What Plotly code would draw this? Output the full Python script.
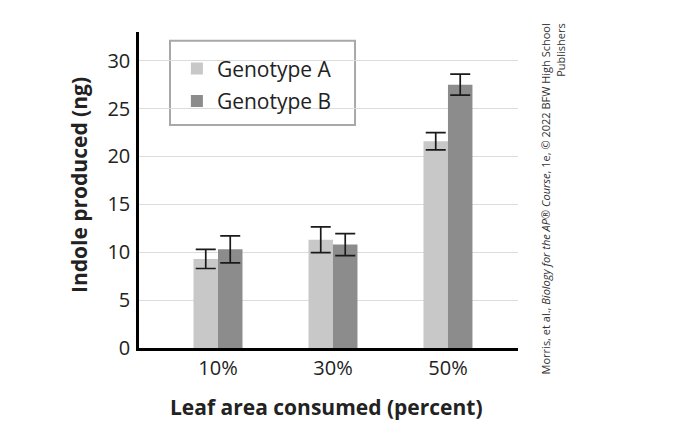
import plotly.graph_objects as go

categories = ["10%", "30%", "50%"]
genotype_a = [9.3, 11.3, 21.6]
genotype_a_err = [1.0, 1.35, 0.9]
genotype_b = [10.3, 10.8, 27.5]
genotype_b_err = [1.4, 1.15, 1.1]
y_ticks = [0, 5, 10, 15, 20, 25, 30]

FONT = "Open Sans"
TXT = "#222"

fig = go.Figure()
fig.add_trace(go.Bar(
    name="Genotype A", x=categories, y=genotype_a, legendgroup="a",
    marker=dict(color="#c8c8c8", line=dict(width=0)),
    error_y=dict(type="data", array=genotype_a_err, color="#1a1a1a", thickness=1.7, width=10),
))
fig.add_trace(go.Bar(
    name="Genotype B", x=categories, y=genotype_b, legendgroup="b",
    marker=dict(color="#8c8c8c", line=dict(width=0)),
    error_y=dict(type="data", array=genotype_b_err, color="#1a1a1a", thickness=1.7, width=10),
))

fig.update_layout(
    width=679, height=440,
    margin=dict(l=131, r=169, t=24, b=100),
    paper_bgcolor="white", plot_bgcolor="white",
    barmode="group", bargap=0.574, bargroupgap=0,
    font=dict(family=FONT, size=20, color=TXT),
    showlegend=True,
    legend=dict(
        x=0.10, y=0.948, xanchor="left", yanchor="top",
        borderwidth=0, bgcolor="rgba(255,255,255,0)",
        font=dict(family=FONT, size=21, color=TXT),
        itemsizing="constant", tracegroupgap=2, traceorder="grouped",
    ),
    xaxis=dict(
        type="category", range=[-0.687, 2.609], automargin=False,
        showline=True, linecolor="black", linewidth=2.5,
        ticks="", showgrid=False,
        tickfont=dict(family=FONT, size=20, color=TXT),
    ),
    yaxis=dict(
        range=[0, 33], tickvals=y_ticks, automargin=False,
        showline=True, linecolor="black", linewidth=2.5,
        showgrid=True, gridcolor="#dcdcdc", gridwidth=1,
        zeroline=False, ticks="", ticklabelstandoff=2,
        tickfont=dict(family=FONT, size=20, color=TXT),
    ),
)

# legend frame
fig.add_shape(type="rect", xref="paper", yref="paper",
              x0=0.0818, x1=0.570, y0=0.706, y1=0.972,
              line=dict(color="#a8a8a8", width=2), fillcolor="white", layer="below")

# axis titles
fig.add_annotation(xref="paper", yref="paper", x=-0.158, y=0.516,
                   text="<b>Indole produced (ng)</b>", textangle=-90, showarrow=False,
                   xanchor="center", yanchor="middle",
                   font=dict(family=FONT, size=21, color=TXT))
fig.add_annotation(xref="paper", yref="paper", x=0.496, y=-0.187,
                   text="<b>Leaf area consumed (percent)</b>", showarrow=False,
                   xanchor="center", yanchor="middle",
                   font=dict(family=FONT, size=21, color=TXT))

fig.add_annotation(
    xref="paper", yref="paper", x=1.092, y=0.473,
    xanchor="center", yanchor="middle",
    text="Morris, et al., <i>Biology for the AP® Course</i>, 1e, © 2022 BFW High School<br>Publishers",
    textangle=-90, align="right", showarrow=False,
    font=dict(family=FONT, size=11, color="#333"),
)

fig.write_html("out.html")
